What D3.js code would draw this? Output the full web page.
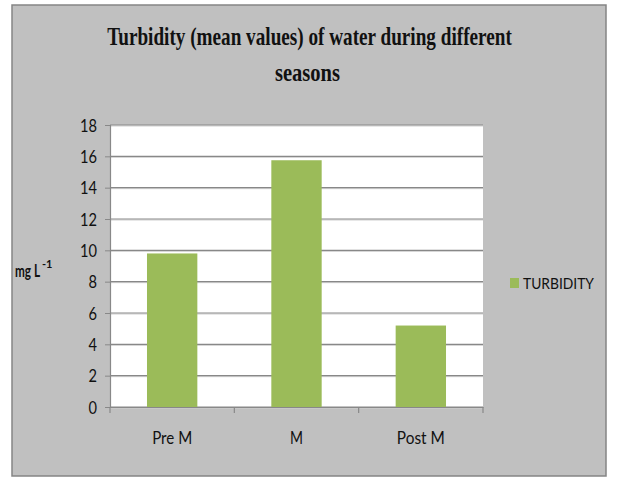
<!DOCTYPE html>
<html><head><meta charset="utf-8">
<script src="https://cdn.jsdelivr.net/npm/d3@7"></script>
<style>body{margin:0;background:#fff}</style>
</head><body>
<script>
const categories = ["Pre M", "M", "Post M"];
const turbidity = [9.8, 15.75, 5.2];
const yTicks = [0, 2, 4, 6, 8, 10, 12, 14, 16, 18];
const seriesName = "TURBIDITY";
const titleLines = ["Turbidity (mean values) of water during different", "seasons"];
const yLabel = "mg L";
const yLabelSup = "-1";

const W = 618, H = 477;
const svg = d3.select("body").append("svg").attr("width", W).attr("height", H);
const sans = "Lato, 'Open Sans', sans-serif";

// horizontally compress a text (anchored at x,y) to a target width
function fit(sel, x, y, width) {
  const n = sel.node().getComputedTextLength();
  const s = Math.min(1, width / n);
  sel.attr("x", 0).attr("y", 0).attr("transform", `translate(${x},${y}) scale(${s},1)`);
}

// chart frame
svg.append("rect").attr("x", 12).attr("y", 5).attr("width", 594).attr("height", 471)
  .attr("fill", "#c0c0c0").attr("stroke", "#858585").attr("stroke-width", 1.5);

const L = 110, R = 483, T = 125, B = 407;
const x = d3.scaleBand().domain(categories).range([L, R]).padding(0);
const y = d3.scaleLinear().domain([0, 18]).range([B, T]);

svg.append("rect").attr("x", L).attr("y", T).attr("width", R - L).attr("height", B - T).attr("fill", "#fff");

// gridlines
const grid = svg.append("g");
grid.selectAll("line.g2").data(yTicks).join("line")
  .attr("x1", L).attr("x2", R).attr("y1", d => y(d) + 1).attr("y2", d => y(d) + 1)
  .attr("stroke", "#cfcfcf").attr("stroke-width", 1);
grid.selectAll("line.g1").data(yTicks).join("line")
  .attr("x1", L).attr("x2", R).attr("y1", d => y(d)).attr("y2", d => y(d))
  .attr("stroke", "#888").attr("stroke-width", 1.2);

// bars
const bw = x.bandwidth() * 0.405;
svg.selectAll("rect.bar").data(turbidity).join("rect")
  .attr("x", (d, i) => x(categories[i]) + x.bandwidth() / 2 - bw / 2)
  .attr("y", d => y(d)).attr("width", bw).attr("height", d => B - y(d))
  .attr("fill", "#9bbb59");

// y axis
const yAxis = svg.append("g").attr("transform", `translate(${L},0)`)
  .call(d3.axisLeft(y).tickValues(yTicks).tickSize(5).tickPadding(8));
yAxis.select(".domain").attr("stroke", "#888").attr("stroke-width", 1.2);
yAxis.selectAll(".tick line").attr("stroke", "#888");
yAxis.selectAll("text").attr("font-family", sans)
  .attr("font-size", 17).attr("fill", "#111").attr("dy", "0.36em")
  .each(function(d) {
    const t = d3.select(this);
    fit(t, -13, 0, String(d).length * 8.5);
  });

// x axis
const xAxis = svg.append("g").attr("transform", `translate(0,${B})`)
  .call(d3.axisBottom(x).tickSize(0).tickPadding(25));
xAxis.select(".domain").attr("stroke", "#888").attr("stroke-width", 1.2);
const catWidths = {"Pre M": 40, "M": 13, "Post M": 48};
xAxis.selectAll("text").attr("font-family", sans)
  .attr("font-size", 17).attr("fill", "#111").attr("dy", "0.71em")
  .each(function(d) {
    fit(d3.select(this), 0, 25, catWidths[d]);
  });
// category boundary ticks
const bounds = categories.map(c => x(c)).concat([R]);
svg.selectAll("line.xt").data(bounds).join("line")
  .attr("x1", d => d).attr("x2", d => d).attr("y1", B).attr("y2", B + 6)
  .attr("stroke", "#888").attr("stroke-width", 1.2);

// title
const title = svg.append("g").attr("font-family", "'Liberation Serif', 'Times New Roman', serif")
  .attr("font-weight", "bold").attr("font-size", 25).attr("fill", "#111").attr("text-anchor", "middle");
fit(title.append("text").text(titleLines[0]), 309.5, 45, 405);
fit(title.append("text").text(titleLines[1]), 307.5, 81, 65);

// y-axis label
fit(svg.append("text").text(yLabel)
  .attr("font-family", sans).attr("font-weight", "bold").attr("font-size", 17).attr("fill", "#111"),
  15, 277, 25);
svg.append("text").attr("x", 42).attr("y", 268).text(yLabelSup)
  .attr("font-family", sans).attr("font-weight", "bold").attr("font-size", 11).attr("fill", "#111");

// legend
svg.append("rect").attr("x", 510).attr("y", 278).attr("width", 9).attr("height", 10).attr("fill", "#9bbb59");
fit(svg.append("text").text(seriesName)
  .attr("font-family", sans).attr("font-size", 16).attr("fill", "#111"), 523, 289, 71);
</script>
</body></html>
